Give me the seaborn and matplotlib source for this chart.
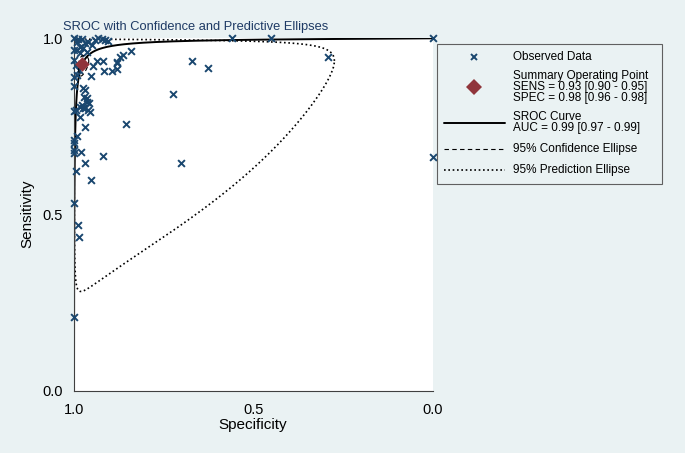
import numpy as np
import pandas as pd
import matplotlib
matplotlib.use("Agg")
import matplotlib.pyplot as plt
import seaborn as sns
from matplotlib.lines import Line2D
from matplotlib.patches import Rectangle

# ---------------- data ----------------
obs_spec = [1.000, 0.989, 0.978, 0.969, 0.961, 0.950, 0.941, 0.933, 0.922, 0.914,
            0.905, 0.560, 0.451, 0.000, 0.292, 0.671, 0.626, 0.724, 0.702, 0.000,
            0.842, 0.863, 0.872, 0.881, 0.879, 0.916, 0.895, 0.881, 0.937, 0.920,
            0.953, 0.946, 0.976, 0.969, 0.972, 0.965, 0.979, 0.960, 0.955, 0.969,
            0.983, 0.969, 0.992, 0.856, 1.000, 1.000, 1.000, 1.000, 0.980, 0.918,
            0.969, 0.994, 0.953, 1.000, 0.988, 0.985, 1.000, 0.983, 0.974, 0.992,
            0.965, 0.983, 1.000, 1.000, 1.000, 1.000, 0.991, 0.983, 0.974, 0.995,
            0.965, 0.958, 0.992, 0.994, 0.986, 1.000]
obs_sens = [1.000, 0.999, 0.998, 0.987, 0.989, 0.981, 0.995, 1.000, 0.998, 0.995,
            0.992, 1.000, 1.000, 1.000, 0.948, 0.936, 0.916, 0.841, 0.647, 0.664,
            0.965, 0.953, 0.946, 0.933, 0.929, 0.908, 0.908, 0.912, 0.936, 0.936,
            0.893, 0.921, 0.858, 0.853, 0.834, 0.820, 0.811, 0.796, 0.791, 0.801,
            0.776, 0.749, 0.722, 0.756, 0.711, 0.702, 0.683, 0.673, 0.678, 0.666,
            0.647, 0.624, 0.599, 0.533, 0.470, 0.437, 0.209, 0.976, 0.972, 0.967,
            0.962, 0.957, 0.938, 0.967, 0.793, 0.891, 0.896, 0.806, 0.801, 0.796,
            0.831, 0.815, 0.990, 0.924, 0.910, 0.865]

summary_spec = 0.977
summary_sens = 0.927

# SROC curve: logit(sens) = alpha + beta * logit(1 - spec)
sroc_alpha = 5.5
sroc_beta = 0.79

# ellipses in logit space (half-widths at 95% and correlation)
conf_half_x, conf_half_y, conf_rho = 0.60, 0.42, 0.3
pred_half_x, pred_half_y, pred_rho = 4.72, 3.48, 0.04

legend_labels = ["Observed Data",
                 "Summary Operating Point\nSENS = 0.93 [0.90 - 0.95]\nSPEC = 0.98 [0.96 - 0.98]",
                 "SROC Curve\nAUC = 0.99 [0.97 - 0.99]",
                 "95% Confidence Ellipse",
                 "95% Prediction Ellipse"]

title = "SROC with Confidence and Predictive Ellipses"

# ---------------- helpers ----------------
def logit(p):
    return np.log(p / (1 - p))

def expit(z):
    return 1 / (1 + np.exp(-z))

def ellipse(cx, cy, hx, hy, rho, n=400):
    t = np.linspace(0, 2 * np.pi, n)
    u, v = np.cos(t), np.sin(t)
    dx = hx * u
    dy = hy * (rho * u + np.sqrt(1 - rho ** 2) * v)
    fpr = expit(cx + dx)
    se = expit(cy + dy)
    return 1 - fpr, se

cx = logit(1 - summary_spec)
cy = logit(summary_sens)

fpr_grid = np.concatenate([np.logspace(-7, -1, 300), np.linspace(0.1, 0.999999, 300)])
sroc_spec = 1 - fpr_grid
sroc_sens = expit(sroc_alpha + sroc_beta * logit(fpr_grid))

ce_spec, ce_sens = ellipse(cx, cy, conf_half_x, conf_half_y, conf_rho)
pe_spec, pe_sens = ellipse(cx, cy, pred_half_x, pred_half_y, pred_rho)

# ---------------- style ----------------
bg = "#EAF2F3"
navy = "#1A476F"
maroon = "#90353B"
sns.set_theme(style="white")
plt.rcParams["font.family"] = ["Liberation Sans", "DejaVu Sans"]

W, H = 685, 453
fig = plt.figure(figsize=(6.85, 4.53), dpi=100, facecolor=bg)
ax = fig.add_axes([74 / W, 1 - 390.5 / H, (433 - 74) / W, (390.5 - 38.3) / H])
ax.set_facecolor("white")

df_obs = pd.DataFrame({"spec": obs_spec, "sens": obs_sens})
sns.scatterplot(data=df_obs, x="spec", y="sens", marker="x", color=navy, s=24,
                linewidth=1.4, ax=ax, clip_on=False, zorder=3)

sns.lineplot(x=pe_spec, y=pe_sens, sort=False, estimator=None, color="black",
             linewidth=1.2, linestyle=(0, (1, 1.6)), ax=ax, zorder=2)
sns.lineplot(x=sroc_spec, y=sroc_sens, sort=False, estimator=None, color="black",
             linewidth=1.4, ax=ax, zorder=2)
sns.lineplot(x=ce_spec, y=ce_sens, sort=False, estimator=None, color="black",
             linewidth=0.8, linestyle=(0, (4, 3)), ax=ax, zorder=4)
sns.scatterplot(x=[summary_spec], y=[summary_sens], marker="D", color=maroon, s=55,
                linewidth=0, ax=ax, zorder=5, clip_on=False)

ax.set_xlim(1, 0)
ax.set_ylim(0, 1)
ax.set_xticks([1.0, 0.5, 0.0])
ax.set_yticks([0.0, 0.5, 1.0])
ax.set_xticklabels(["1.0", "0.5", "0.0"])
ax.set_yticklabels(["0.0", "0.5", "1.0"])
ax.tick_params(axis="both", direction="out", length=5, width=0.8, color="#404040",
               labelsize=10.5, labelcolor="black", pad=3)
ax.tick_params(axis="x", pad=4)
for s in ["top", "right"]:
    ax.spines[s].set_visible(False)
for s in ["left", "bottom"]:
    ax.spines[s].set_color("#404040")
    ax.spines[s].set_linewidth(0.8)
ax.set_xlabel("")
ax.set_ylabel("")

fig.text(253 / W, 1 - 425 / H, "Specificity", ha="center", va="center", fontsize=11, color="black")
fig.text(27 / W, 1 - 214 / H, "Sensitivity", ha="center", va="center", rotation=90,
         fontsize=11, color="black")
fig.text(63 / W, 1 - 27 / H, title, ha="left", va="center", fontsize=9.3, color="#1E3A64")

# ---------------- legend (laid out like the Stata legend) ----------------
def fx(px):
    return px / W

def fy(py):
    return 1 - py / H

fig.add_artist(Rectangle((fx(437), fy(184)), (662 - 437) / W, (184 - 44) / H,
                         transform=fig.transFigure, facecolor=bg, edgecolor="#606060",
                         linewidth=0.8, zorder=1))

handle_mid = 474
fig.add_artist(Line2D([fx(handle_mid)], [fy(57)], linestyle="none", marker="x", color=navy,
                      markersize=4.6, markeredgewidth=1.4, transform=fig.transFigure))
fig.add_artist(Line2D([fx(handle_mid)], [fy(87)], linestyle="none", marker="D", color=maroon,
                      markersize=8, markeredgewidth=0, transform=fig.transFigure))
fig.add_artist(Line2D([fx(444), fx(505)], [fy(122.5)] * 2, color="black", linewidth=1.4,
                      transform=fig.transFigure))
fig.add_artist(Line2D([fx(444), fx(505)], [fy(149)] * 2, color="black", linewidth=0.8,
                      linestyle=(0, (4, 3)), transform=fig.transFigure))
fig.add_artist(Line2D([fx(444), fx(505)], [fy(170)] * 2, color="black", linewidth=1.2,
                      linestyle=(0, (1, 1.6)), transform=fig.transFigure))

label_first_line_y = [57, 76, 117, 149, 170]
line_pitch = 11
for lab, y0 in zip(legend_labels, label_first_line_y):
    for i, line in enumerate(lab.split("\n")):
        fig.text(fx(513), fy(y0 + i * line_pitch), line, ha="left", va="center",
                 fontsize=8.5, color="black")

fig.savefig("out.png", dpi=100, facecolor=bg)
